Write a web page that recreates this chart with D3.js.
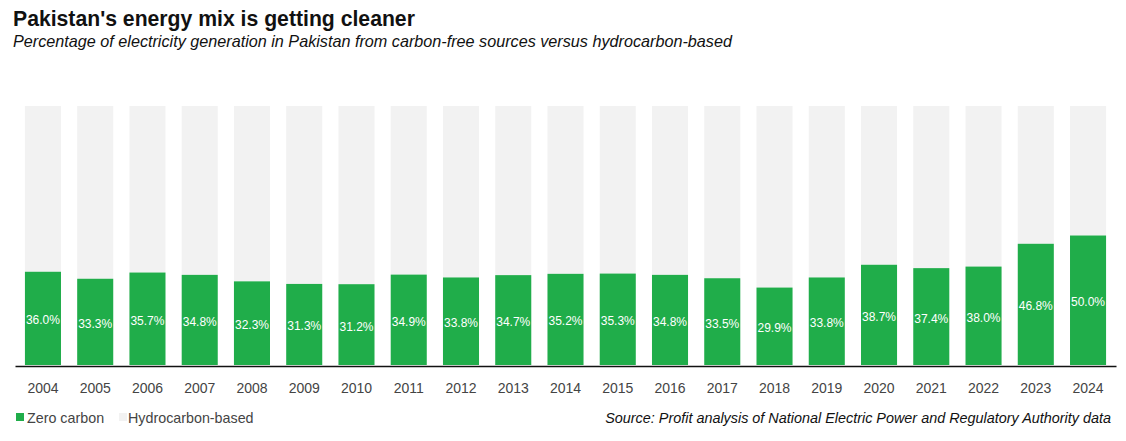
<!DOCTYPE html>
<html lang="en">
<head>
  <meta charset="UTF-8">
  <title>Pakistan energy mix</title>
  <script src="https://d3js.org/d3.v7.min.js"></script>
  <style type="text/css">
    body { margin: 0; background: #fff; }
    text { font-family: "Liberation Sans", Arial, sans-serif; }
  </style>
</head>
<body>
<script type="text/javascript">
  var years = ["2004","2005","2006","2007","2008","2009","2010","2011","2012","2013","2014",
               "2015","2016","2017","2018","2019","2020","2021","2022","2023","2024"];
  var zeroCarbon = [36.0,33.3,35.7,34.8,32.3,31.3,31.2,34.9,33.8,34.7,35.2,
                    35.3,34.8,33.5,29.9,33.8,38.7,37.4,38.0,46.8,50.0];
  var legendLabels = ["Zero carbon", "Hydrocarbon-based"];

  var width = 1126, height = 441;
  var green = "#20ad4a", grey = "#f2f2f2";

  var svg = d3.select("body").append("svg")
    .attr("width", width)
    .attr("height", height);

  svg.append("text")
    .attr("x", 13).attr("y", 26)
    .style("font-size", "21.2px").style("font-weight", "bold").attr("fill", "#111")
    .text("Pakistan's energy mix is getting cleaner");
  svg.append("text")
    .attr("x", 13).attr("y", 47)
    .style("font-size", "16.2px").style("font-style", "italic").attr("fill", "#111")
    .text("Percentage of electricity generation in Pakistan from carbon-free sources versus hydrocarbon-based");

  var x = d3.scaleBand()
    .domain(years)
    .range([15, 1116])
    .paddingInner(0.31)
    .paddingOuter(0.19);

  var y = d3.scaleLinear()
    .domain([0, 100])
    .range([365, 106]);

  // hydrocarbon part (stacked above zero carbon)
  svg.selectAll("rect.hc")
    .data(years)
    .enter().append("rect")
    .attr("class", "hc")
    .attr("x", function(d){ return x(d); })
    .attr("width", x.bandwidth())
    .attr("y", y(100))
    .attr("height", function(d, i){ return y(zeroCarbon[i]) - y(100); })
    .attr("fill", grey);

  svg.selectAll("rect.zc")
    .data(zeroCarbon)
    .enter().append("rect")
    .attr("class", "zc")
    .attr("x", function(d, i){ return x(years[i]); })
    .attr("width", x.bandwidth())
    .attr("y", function(d){ return y(d); })
    .attr("height", function(d){ return y(0) - y(d); })
    .attr("fill", green);

  svg.selectAll("text.val")
    .data(zeroCarbon)
    .enter().append("text")
    .attr("class", "val")
    .attr("x", function(d, i){ return x(years[i]) + x.bandwidth() / 2; })
    .attr("y", function(d){ return (y(d) + y(0)) / 2 + 6; })
    .attr("text-anchor", "middle")
    .style("font-size", "12px")
    .attr("fill", "#fff")
    .text(function(d){ return d.toFixed(1) + "%"; });

  var axis = svg.append("g")
    .attr("transform", "translate(0," + 366 + ")")
    .call(d3.axisBottom(x).tickSize(0).tickPadding(17));
  axis.select(".domain").attr("stroke", "#111").attr("stroke-width", 1.3);
  axis.selectAll("text").style("font-size", "14px").attr("fill", "#444")
    .style("font-family", "'Liberation Sans', Arial, sans-serif");

  // legend
  var legend = svg.append("g").attr("transform", "translate(16,423)");
  legend.append("rect").attr("x", 0).attr("y", -10).attr("width", 8).attr("height", 8).attr("fill", green);
  legend.append("text").attr("x", 11).attr("y", 0).style("font-size", "14.3px").attr("fill", "#444").text(legendLabels[0]);
  legend.append("rect").attr("x", 103).attr("y", -10).attr("width", 8).attr("height", 8).attr("fill", grey);
  legend.append("text").attr("x", 112).attr("y", 0).style("font-size", "14.3px").attr("fill", "#444").text(legendLabels[1]);

  svg.append("text")
    .attr("x", 1111).attr("y", 423)
    .attr("text-anchor", "end")
    .style("font-size", "14.4px").style("font-style", "italic").attr("fill", "#111")
    .text("Source: Profit analysis of National Electric Power and Regulatory Authority data");
</script>
</body>
</html>
